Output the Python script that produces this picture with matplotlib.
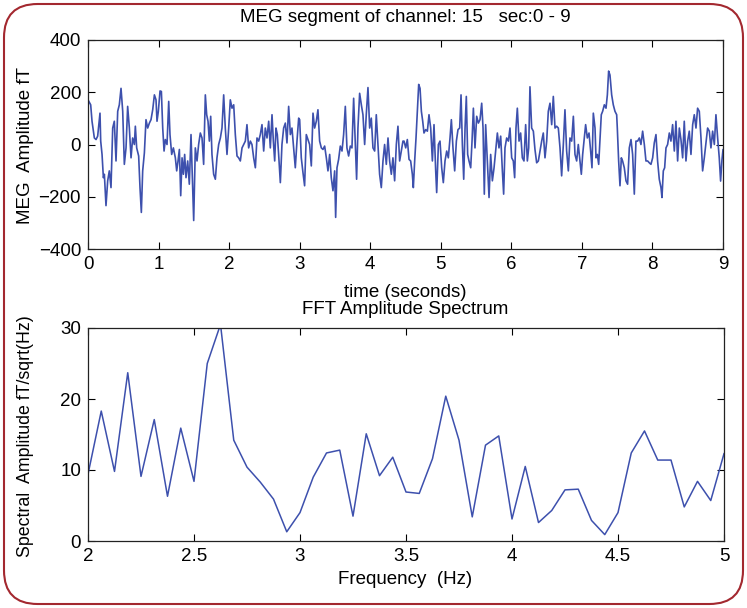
import matplotlib
matplotlib.use("Agg")
import matplotlib.pyplot as plt
from matplotlib.patches import FancyBboxPatch

plt.rcParams['font.family'] = ['Liberation Sans', 'DejaVu Sans']

# ---------------- data: MEG segment (time in s, amplitude in fT) ----------------
meg_time = [
    0.0, 0.038, 0.057, 0.090, 0.114, 0.137, 0.170, 0.180, 0.199, 0.218, 0.232, 0.255, 0.279, 0.302, 0.326,
    0.350, 0.373, 0.397, 0.421, 0.444, 0.468, 0.492, 0.515, 0.539, 0.562, 0.586, 0.610, 0.633, 0.657, 0.671,
    0.690, 0.718, 0.737, 0.756, 0.775, 0.799, 0.822, 0.846, 0.870, 0.893, 0.917, 0.941, 0.964, 0.978, 0.997,
    1.021, 1.040, 1.059, 1.078, 1.096, 1.120, 1.144, 1.162, 1.186, 1.210, 1.238, 1.257, 1.276, 1.295, 1.314,
    1.333, 1.352, 1.370, 1.389, 1.413, 1.436, 1.460,
    1.498, 1.521, 1.545, 1.568, 1.592, 1.616, 1.639, 1.663, 1.682, 1.701, 1.720, 1.739, 1.757, 1.781, 1.805,
    1.828, 1.852, 1.876, 1.899, 1.923, 1.946, 1.970, 1.994, 2.017, 2.041, 2.065, 2.088, 2.112, 2.135, 2.159,
    2.183, 2.206, 2.230, 2.253, 2.277, 2.301, 2.324, 2.348, 2.372, 2.395, 2.419, 2.442, 2.466, 2.490, 2.513,
    2.537, 2.561, 2.584, 2.608, 2.627, 2.646, 2.664, 2.683, 2.702, 2.726, 2.749, 2.773, 2.797, 2.820, 2.844,
    2.868, 2.891, 2.915, 2.938, 2.962, 2.986,
    3.000, 3.023, 3.047, 3.070, 3.094, 3.118, 3.141, 3.165, 3.189, 3.212, 3.236, 3.259, 3.283, 3.307, 3.330,
    3.354, 3.378, 3.401, 3.425, 3.448, 3.472, 3.496, 3.510, 3.529, 3.552, 3.576, 3.600, 3.623, 3.647, 3.670,
    3.694, 3.718, 3.741, 3.765, 3.789, 3.807, 3.826, 3.850, 3.874, 3.897, 3.921, 3.944, 3.968, 3.992, 4.015,
    4.039, 4.063, 4.086, 4.110, 4.133, 4.157, 4.181, 4.204, 4.228, 4.252, 4.275, 4.299, 4.322, 4.346, 4.370,
    4.393, 4.417, 4.440, 4.464,
    4.479, 4.503, 4.526, 4.550, 4.573, 4.597, 4.611, 4.630, 4.649, 4.668, 4.687, 4.706, 4.725, 4.744, 4.762,
    4.786, 4.810, 4.833, 4.857, 4.881, 4.904, 4.928, 4.942, 4.966, 4.989, 5.013, 5.036, 5.060, 5.084, 5.107,
    5.131, 5.150, 5.173, 5.197, 5.221, 5.244, 5.268, 5.287, 5.306, 5.325, 5.344, 5.362, 5.381, 5.400, 5.424,
    5.443, 5.462, 5.485, 5.509, 5.533, 5.556, 5.580, 5.599, 5.617, 5.636, 5.660, 5.684, 5.707, 5.731, 5.755,
    5.778, 5.802, 5.825, 5.849, 5.873, 5.891, 5.910, 5.934, 5.958, 5.981,
    6.005, 6.028, 6.047, 6.066, 6.085, 6.109, 6.132, 6.156, 6.179, 6.203, 6.227, 6.246, 6.264, 6.288, 6.312,
    6.335, 6.359, 6.383, 6.406, 6.430, 6.453, 6.477, 6.501, 6.524, 6.548, 6.572, 6.595, 6.619, 6.642, 6.666,
    6.690, 6.713, 6.737, 6.760, 6.784, 6.808, 6.831, 6.855, 6.879, 6.902, 6.926, 6.949, 6.973, 6.992, 7.011,
    7.030, 7.053, 7.077, 7.101, 7.124, 7.143, 7.162, 7.186, 7.200, 7.219, 7.238, 7.257, 7.275, 7.294, 7.318,
    7.342, 7.361, 7.379, 7.398, 7.422, 7.445, 7.469, 7.493,
    7.502, 7.521, 7.540, 7.559, 7.577, 7.601, 7.625, 7.648, 7.672, 7.696, 7.719, 7.743, 7.766, 7.790, 7.814,
    7.837, 7.861, 7.885, 7.908, 7.932, 7.955, 7.979, 8.003, 8.026, 8.050, 8.073, 8.097, 8.121, 8.135, 8.154,
    8.173, 8.192, 8.215, 8.239, 8.262, 8.286, 8.310, 8.333, 8.357, 8.381, 8.404, 8.428, 8.451, 8.475, 8.499,
    8.522, 8.546, 8.570, 8.593, 8.617, 8.640, 8.664, 8.688, 8.711, 8.735, 8.758, 8.782, 8.806, 8.829, 8.853,
    8.877, 8.900, 8.924, 8.947, 8.966, 8.985, 9.0,
]
meg_value = [
    171, 152, 89, 25, 19, 32, 120, 13, -38, -127, -114, -234, -139, -101, -165,
    63, 89, -63, 127, 152, 215, 127, -76, -13, 146, 63, -51, 25, 0, 70,
    -13, -44, -165, -260, -101, -32, 95, 63, 82, 95, 133, 190, 171, 89, 127,
    205, 203, 63, -25, 19, 0, 165, 38, -38, -13, -51, -101, -63, -19, -196,
    -51, -114, -38, -127, -63, -152, 38,
    -291, -13, -63, 0, 44, 25, -76, 190, 114, 89, 13, 108, -38, -114, -133,
    -51, 0, 25, 63, 190, 63, -38, 63, 171, 139, 152, 38, -44, -51, -63,
    -13, 0, 13, 76, -13, 13, 0, -51, -89, 25, 13, 38, 76, -25, 63,
    25, 89, -13, 114, 13, -63, 63, 38, -38, -146, 0, 63, 82, 6, 146,
    38, 63, -13, -89, 13, 101,
    95, -51, -108, -158, 38, 19, 0, -82, 120, 63, 89, 133, 13, -13, -19,
    -6, -51, -101, -38, -127, -177, -101, -279, -89, -57, -6, -25, 38, 146, -13,
    -44, -6, -13, 177, 0, -133, 63, 196, 152, 114, 0, 114, 218, 63, 101,
    -13, -25, 114, 0, -114, -165, -63, 0, -76, 25, -63, -114, -51, -139, 0,
    70, -63, -25, 13,
    13, -13, 19, -57, -63, -114, -165, -63, 25, 127, 230, 215, 127, 89, 44,
    57, 51, 114, 63, -63, 76, -101, -184, 0, 13, -89, -146, -63, -25, -51,
    25, 95, -13, -101, 13, 57, 63, 190, 0, -133, 63, 184, -38, -63, -89,
    13, 139, -13, 108, 82, 95, 158, 63, -190, 76, -63, -203, -38, -139, -89,
    -25, 44, -13, 32, -101, -190, -13, 25, 13, 63,
    -51, -63, -127, 63, 139, 13, 44, -51, -63, 76, -63, -13, 221, 63, 51,
    -19, -70, -63, -25, 13, 44, -51, 13, 127, 158, 76, 184, 63, 70, 63,
    -13, -120, 0, 133, -25, -101, 25, 13, 108, -38, -63, 0, -63, -114, -38,
    13, 76, 25, 44, -25, -89, 120, 63, -51, -38, -76, 25, 114, 127, 152,
    139, 190, 281, 266, 190, 152, 127, 114,
    63, -63, -158, -51, -63, -89, -139, -152, -13, 19, -38, -190, 13, 13, 25,
    0, 51, 0, -63, -63, -70, -76, -51, 6, 38, -63, -133, -165, -203, -101,
    -89, -13, 0, 44, 13, 76, -25, 89, -63, 63, 19, -51, 89, -63, 13,
    51, -38, 76, 114, 63, 139, 127, 25, -101, -51, 6, 63, 51, -13, 51,
    0, 114, 25, -51, -140, -60, -20,
]

# ---------------- data: FFT amplitude spectrum ----------------
fft_freq_start = 2.0
fft_freq_step = 0.0625
fft_amplitude = [
    9.4, 18.3, 9.8, 23.7, 9.1, 17.1, 6.3, 15.9, 8.4, 25.0,
    30.5, 14.2, 10.4, 8.3, 5.9, 1.3, 4.0, 9.0, 12.4, 12.8,
    3.5, 15.1, 9.2, 11.8, 6.9, 6.7, 11.6, 20.4, 14.2, 3.4,
    13.5, 14.8, 3.1, 10.5, 2.6, 4.3, 7.2, 7.3, 2.9, 0.9,
    4.0, 12.4, 15.5, 11.4, 11.4, 4.8, 8.4, 5.7, 12.3,
]
fft_freq = [fft_freq_start + i * fft_freq_step for i in range(len(fft_amplitude))]

top_xticks = list(range(0, 10))
top_yticks = [-400, -200, 0, 200, 400]
bot_xticks = [2, 2.5, 3, 3.5, 4, 4.5, 5]
bot_xticklabels = ['2', '2.5', '3', '3.5', '4', '4.5', '5']
bot_yticks = [0, 10, 20, 30]

W, H = 747, 608
fig = plt.figure(figsize=(W / 100, H / 100), dpi=100)
fig.patch.set_facecolor('white')

line_color = '#3d50ad'
tick_fs = 13.5
lab_fs = 13.5


def px_axes(l, t, r, b):
    return fig.add_axes([l / W, 1 - b / H, (r - l) / W, (b - t) / H])


def style(ax):
    ax.tick_params(direction='in', length=5, width=0.8, top=True, right=True,
                   labelsize=tick_fs, pad=5, colors='black')
    for s in ax.spines.values():
        s.set_linewidth(0.9)
        s.set_color('#222222')


ax1 = px_axes(88, 40, 723, 249)
ax1.plot(meg_time, meg_value, color=line_color, lw=1.2)
ax1.set_xlim(0, 9)
ax1.set_ylim(-400, 400)
ax1.set_xticks(top_xticks)
ax1.set_yticks(top_yticks)
style(ax1)

ax2 = px_axes(88, 328, 724, 541)
ax2.plot(fft_freq, fft_amplitude, color=line_color, lw=1.1)
ax2.set_xlim(2, 5)
ax2.set_ylim(0, 30)
ax2.set_xticks(bot_xticks)
ax2.set_xticklabels(bot_xticklabels)
ax2.set_yticks(bot_yticks)
style(ax2)

fig.text(405 / W, 1 - 18 / H, 'MEG segment of channel: 15   sec:0 - 9', ha='center', va='center', fontsize=lab_fs)
fig.text(405 / W, 1 - 293 / H, 'time (seconds)', ha='center', va='center', fontsize=lab_fs)
fig.text(405 / W, 1 - 309 / H, 'FFT Amplitude Spectrum', ha='center', va='center', fontsize=lab_fs)
fig.text(405 / W, 1 - 580 / H, 'Frequency  (Hz)', ha='center', va='center', fontsize=lab_fs)
fig.text(26 / W, 1 - 145 / H, 'MEG  Amplitude fT', ha='center', va='center', rotation=90, fontsize=lab_fs)
fig.text(26 / W, 1 - 436 / H, 'Spectral  Amplitude fT/sqrt(Hz)', ha='center', va='center', rotation=90, fontsize=12.8)

border = FancyBboxPatch((4 / W, 4 / H), (W - 8) / W, (H - 8) / H,
                        boxstyle='round,pad=0,rounding_size=0.045',
                        transform=fig.transFigure, fill=False,
                        edgecolor='#a3282f', linewidth=1.5,
                        mutation_aspect=W / H)
fig.patches.append(border)

fig.savefig('out.png', dpi=100)
